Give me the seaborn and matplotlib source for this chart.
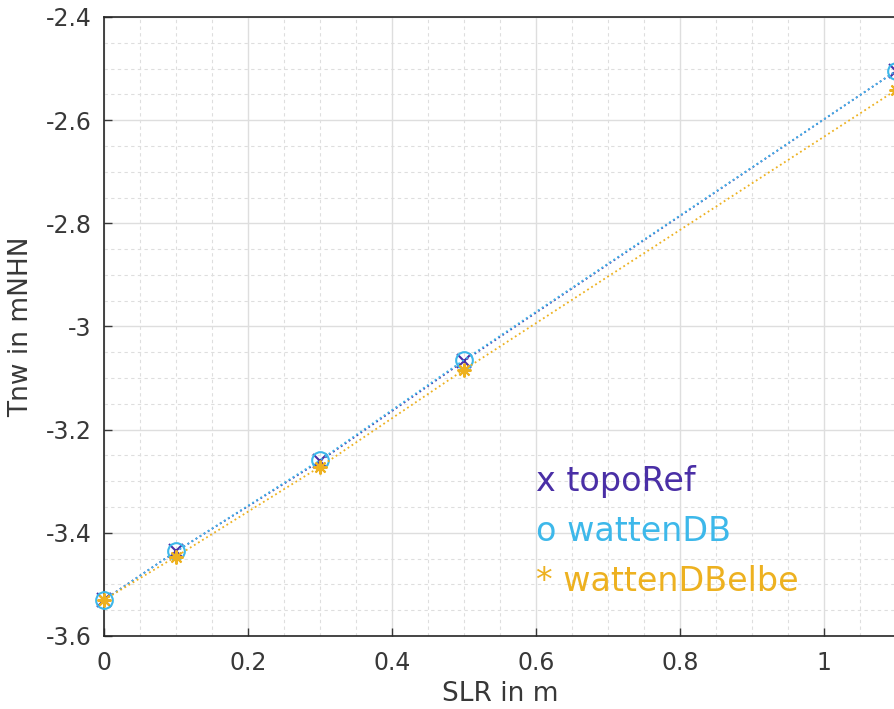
import pandas as pd
import seaborn as sns
import matplotlib.pyplot as plt
import matplotlib.ticker as ticker

slr = [0, 0.1, 0.3, 0.5, 1.1]
topo_ref = [-3.53, -3.436, -3.261, -3.067, -2.505]
watten_db = [-3.53, -3.436, -3.259, -3.065, -2.505]
watten_db_elbe = [-3.53, -3.446, -3.272, -3.084, -2.542]

names = ['topoRef', 'wattenDB', 'wattenDBelbe']
labels = ['x topoRef', 'o wattenDB', '* wattenDBelbe']
colors = ['#4a2fa6', '#3db8ea', '#edb120']
markers = ['x', 'o', (8, 2, 0)]

df = pd.DataFrame({'SLR': slr * 3,
                   'Tnw': topo_ref + watten_db + watten_db_elbe,
                   'run': sum([[n] * len(slr) for n in names], [])})

sns.set_style('white')
plt.rcParams['font.family'] = ['DejaVu Sans']

fig = plt.figure(figsize=(8.94, 7.09), dpi=100)
ax = fig.add_axes([104 / 894, 1 - 636 / 709, 1 - 104 / 894 + 0.002, 619 / 709])

for n, c, m in zip(names, colors, markers):
    d = df[df['run'] == n]
    face = 'none' if m == 'o' else c
    sns.lineplot(x='SLR', y='Tnw', data=d, ax=ax, color=c, linestyle=':',
                 linewidth=1.3, marker=m, markersize=12 if m == 'o' else 10,
                 markerfacecolor=face, markeredgecolor=c, markeredgewidth=1.5,
                 legend=False, zorder=3, clip_on=False)

ax.set_xlim(0, 1.1)
ax.set_ylim(-3.6, -2.4)
ax.xaxis.set_major_locator(ticker.MultipleLocator(0.2))
ax.xaxis.set_minor_locator(ticker.MultipleLocator(0.05))
ax.yaxis.set_major_locator(ticker.MultipleLocator(0.2))
ax.yaxis.set_minor_locator(ticker.MultipleLocator(0.05))
ax.xaxis.set_major_formatter(ticker.FuncFormatter(lambda v, p: f'{v:g}'))
ax.yaxis.set_major_formatter(ticker.FuncFormatter(lambda v, p: f'{v:g}'))

ax.grid(True, which='major', color='#dedede', linewidth=1, linestyle='-')
ax.grid(True, which='minor', color='#dedede', linewidth=0.8, linestyle=(0, (3, 3)))
ax.set_axisbelow(True)
ax.tick_params(which='major', direction='in', length=6, width=1, colors='#383838',
               labelsize=17, pad=9, left=True, bottom=True)
ax.tick_params(axis='x', pad=11)
ax.tick_params(which='minor', length=0)
for s in ['left', 'bottom', 'top']:
    ax.spines[s].set_color('#262626')
    ax.spines[s].set_linewidth(1.2)
ax.spines['right'].set_visible(False)

ax.set_xlabel('SLR in m', fontsize=19, color='#383838', labelpad=4)
ax.set_ylabel('Tnw in mNHN', fontsize=19, color='#383838', labelpad=8)

for i, (lab, c) in enumerate(zip(labels, colors)):
    ax.text(0.6, -3.30 - 0.097 * i, lab, color=c, fontsize=24, va='center', ha='left')

plt.savefig('out.png', dpi=100)
